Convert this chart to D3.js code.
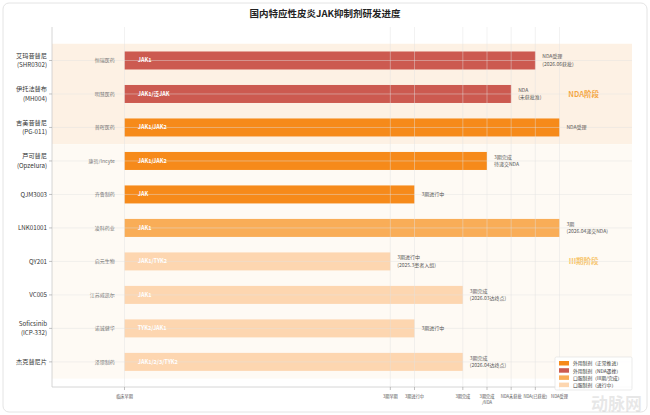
<!DOCTYPE html>
<html>
<head>
<meta charset="utf-8">
<script src="https://cdn.jsdelivr.net/npm/d3@7"></script>
<style>
  body { margin: 0; background: #fff; }
  svg { font-family: "Noto Sans CJK SC", "Noto Sans", sans-serif; }
</style>
</head>
<body>
<svg id="chart" width="650" height="415"></svg>
<script>
// drug rows, top to bottom
var drugNames = ["艾玛昔替尼", "伊托法替布", "吉美昔替尼", "芦可替尼", "QJM3003", "LNK01001", "QY201", "VC005", "Soficsinib", "杰克替尼片"];
var drugCodes = ["(SHR0302)", "(MH004)", "(PG-011)", "(Opzelura)", "", "", "", "", "(ICP-332)", ""];
var companies = ["恒瑞医药", "明慧医药", "普晖医药", "康哲/Incyte", "齐鲁制药", "凌科药业", "启元生物", "江苏威凯尔", "诺诚健华", "泽璟制药"];
var targets = ["JAK1", "JAK1/泛JAK", "JAK1/JAK2", "JAK1/JAK2", "JAK", "JAK1", "JAK1/TYK2", "JAK1", "TYK2/JAK1", "JAK1/2/3/TYK2"];
var progress = [17, 16, 18, 15, 12, 18, 11, 14, 12, 14];
var groups = [1, 1, 0, 0, 0, 2, 3, 3, 3, 3];
var notes = [
  ["NDA受理", "(2026.06获批)"],
  ["NDA", "(未获批准)"],
  ["NDA受理"],
  ["3期完成", "待递交NDA"],
  ["3期进行中"],
  ["3期", "(2026.04递交NDA)"],
  ["3期进行中", "(2025.3患者入组)"],
  ["3期完成", "(2026.03达终点)"],
  ["3期进行中"],
  ["3期完成", "(2026.04达终点)"]
];

// x axis stages
var stageValues = [0, 11, 12, 14, 15, 16, 17, 18];
var stageLabels = ["临床早期", "3期早期", "3期进行中", "3期完成", "3期完成\n/NDA", "NDA未获批", "NDA(已获批)", "NDA受理"];

var legendLabels = ["外用制剂（正常推进）", "外用制剂（NDA遇挫）", "口服制剂（III期/完成）", "口服制剂（进行中）"];
var groupColors = ["#f68a1a", "#cc5a50", "#f9ad57", "#fdd6b0"];

var svg = d3.select("#chart");
var W = 650, H = 415;

// card
svg.append("rect")
    .attr("x", 3).attr("y", 3)
    .attr("width", W - 6).attr("height", H - 6)
    .attr("rx", 6)
    .attr("fill", "#fff")
    .attr("stroke", "#e4e4e4");

svg.append("text")
    .attr("x", 325).attr("y", 17)
    .attr("text-anchor", "middle")
    .attr("font-size", 9.5)
    .attr("font-weight", "bold")
    .attr("fill", "#222")
    .text("国内特应性皮炎JAK抑制剂研发进度");

var plot = {left: 52, right: 632, top: 27, bottom: 387};

var x = d3.scaleLinear().domain([-3, 21]).range([plot.left, plot.right]);
var y = d3.scaleLinear().domain([-1, 9.75]).range([plot.top, plot.bottom]);
var barH = 18;

// stage background bands
svg.append("rect")
    .attr("x", x(-3)).attr("width", x(21) - x(-3))
    .attr("y", y(-0.5)).attr("height", y(2.5) - y(-0.5))
    .attr("fill", "#fdf1e4");
svg.append("rect")
    .attr("x", x(-3)).attr("width", x(21) - x(-3))
    .attr("y", y(2.5)).attr("height", y(9.5) - y(2.5))
    .attr("fill", "#fefaf4");

svg.append("text")
    .attr("x", x(19)).attr("y", y(1) + 3)
    .attr("text-anchor", "middle")
    .attr("font-size", 7.5).attr("font-weight", "bold")
    .attr("fill", "#f5a540")
    .text("NDA阶段");
svg.append("text")
    .attr("x", x(19)).attr("y", y(6) + 3)
    .attr("text-anchor", "middle")
    .attr("font-size", 7.5).attr("font-weight", "bold")
    .attr("fill", "#f7c56c")
    .text("III期阶段");

// bars
var rows = drugNames.map(function (d, i) { return {i: i, end: progress[i], g: groups[i]}; });

svg.append("g").selectAll("rect")
    .data(rows)
    .enter().append("rect")
    .attr("x", x(0))
    .attr("y", function (d) { return y(d.i) - barH / 2; })
    .attr("width", function (d) { return x(d.end) - x(0); })
    .attr("height", barH)
    .attr("fill", function (d) { return groupColors[d.g]; });

// grid on top, faint
var grid = svg.append("g").attr("stroke", "#e2e2e2").attr("stroke-opacity", 0.55).attr("stroke-width", 0.8);
grid.selectAll(".v").data(stageValues).enter().append("line")
    .attr("x1", function (d) { return x(d); }).attr("x2", function (d) { return x(d); })
    .attr("y1", plot.top).attr("y2", plot.bottom);
grid.selectAll(".h").data(rows).enter().append("line")
    .attr("x1", plot.left).attr("x2", plot.right)
    .attr("y1", function (d) { return y(d.i); }).attr("y2", function (d) { return y(d.i); });

// target text inside bars
svg.append("g").selectAll("text")
    .data(rows)
    .enter().append("text")
    .attr("x", x(0.55))
    .attr("y", function (d) { return y(d.i) + 2; })
    .attr("font-size", 5.5).attr("font-weight", "bold")
    .attr("fill", "#fff")
    .text(function (d) { return targets[d.i]; });

// company labels
svg.append("g").selectAll("text")
    .data(rows)
    .enter().append("text")
    .attr("x", x(-0.4))
    .attr("y", function (d) { return y(d.i) + 2; })
    .attr("text-anchor", "end")
    .attr("font-size", 5)
    .attr("fill", "#777")
    .text(function (d) { return companies[d.i]; });

// status notes at bar end
svg.append("g").selectAll("text")
    .data(rows)
    .enter().append("text")
    .attr("x", function (d) { return x(d.end) + 7; })
    .attr("y", function (d) { return y(d.i) + (notes[d.i].length > 1 ? -2 : 2); })
    .attr("font-size", 5)
    .attr("fill", "#555")
    .each(function (d) {
        var t = d3.select(this);
        notes[d.i].forEach(function (s, k) {
            t.append("tspan").attr("x", x(d.end) + 7).attr("dy", k ? 7.5 : 0).text(s);
        });
    });

// y axis
var yAxis = svg.append("g").attr("transform", "translate(" + plot.left + ",0)");
yAxis.append("line").attr("y1", plot.top).attr("y2", plot.bottom).attr("stroke", "#ccc").attr("stroke-width", 0.8);
var yt = yAxis.selectAll("g").data(rows).enter().append("g")
    .attr("transform", function (d) { return "translate(0," + y(d.i) + ")"; });
yt.append("line").attr("x1", -3).attr("x2", 0).attr("stroke", "#999").attr("stroke-width", 0.6);
yt.append("text")
    .attr("x", -5)
    .attr("text-anchor", "end")
    .attr("font-size", 6.2)
    .attr("fill", "#333")
    .each(function (d) {
        var t = d3.select(this);
        if (drugCodes[d.i]) {
            t.append("tspan").attr("x", -5).attr("y", -2.6).text(drugNames[d.i]);
            t.append("tspan").attr("x", -5).attr("y", 6.8).text(drugCodes[d.i]);
        } else {
            t.append("tspan").attr("x", -5).attr("y", 2.3).text(drugNames[d.i]);
        }
    });

// x axis
var xAxis = svg.append("g").attr("transform", "translate(0," + plot.bottom + ")");
xAxis.append("line").attr("x1", plot.left).attr("x2", plot.right).attr("stroke", "#ccc").attr("stroke-width", 0.8);
var xt = xAxis.selectAll("g").data(stageValues).enter().append("g")
    .attr("transform", function (d) { return "translate(" + x(d) + ",0)"; });
xt.append("line").attr("y2", 3).attr("stroke", "#999").attr("stroke-width", 0.6);
xt.append("text")
    .attr("text-anchor", "middle")
    .attr("font-size", 4.2)
    .attr("fill", "#555")
    .each(function (d, i) {
        var t = d3.select(this);
        stageLabels[i].split("\n").forEach(function (s, k) {
            t.append("tspan").attr("x", 0).attr("y", 11 + k * 6).text(s);
        });
    });

// watermark (behind legend)
svg.append("text")
    .attr("x", 642).attr("y", 410)
    .attr("text-anchor", "end")
    .attr("font-size", 17).attr("font-weight", "bold")
    .attr("fill", "#bbb").attr("fill-opacity", 0.35)
    .text("动脉网");

// legend
var lg = svg.append("g").attr("transform", "translate(555,357)");
lg.append("rect").attr("width", 77).attr("height", 33).attr("fill", "#fff").attr("fill-opacity", 0.9)
    .attr("stroke", "#ddd").attr("stroke-width", 0.6).attr("rx", 1.5);
var li = lg.selectAll("g").data(legendLabels).enter().append("g")
    .attr("transform", function (d, i) { return "translate(4," + (4 + i * 7.2) + ")"; });
li.append("rect").attr("width", 10).attr("height", 4.5).attr("fill", function (d, i) { return groupColors[i]; });
li.append("text").attr("x", 14).attr("y", 4.3).attr("font-size", 4.8).attr("fill", "#333").text(function (d) { return d; });
</script>
</body>
</html>
